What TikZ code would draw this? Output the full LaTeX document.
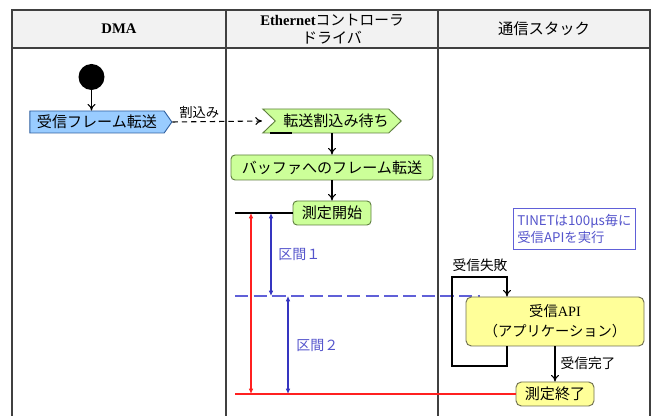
\documentclass[tikz,border=0pt]{standalone}
\usepackage{fontspec}
\setmainfont{Liberation Serif}
\newfontfamily\jp{Noto Sans CJK JP}
\usetikzlibrary{shapes.symbols,arrows.meta}
\definecolor{gfill}{HTML}{CCFF99}
\definecolor{gline}{HTML}{5F7F3F}
\definecolor{bfill}{HTML}{99CCFF}
\definecolor{bline}{HTML}{3060A0}
\definecolor{yfill}{HTML}{FFFF99}
\definecolor{yline}{HTML}{707050}
\definecolor{tline}{HTML}{404040}
\definecolor{hfill}{HTML}{F2F2F2}
\definecolor{mblue}{HTML}{3535C0}
\definecolor{lblue}{HTML}{6060D8}
\definecolor{tblue}{HTML}{5555CC}
\definecolor{mred}{HTML}{FF2020}
\begin{document}
\begin{tikzpicture}[x=0.75pt,y=-0.75pt,
  font=\fontsize{11.3}{14}\jp\selectfont,
  gbox/.style={draw=gline, fill=gfill, rounded corners=3pt, inner sep=0pt, align=center, line width=0.7pt},
  ybox/.style={draw=yline, fill=yfill, rounded corners=4pt, inner sep=0pt, align=center, line width=0.7pt},
  arr/.style={-{To[length=5pt,width=6pt]}, line width=0.8pt},
  redarr/.style={{Latex[length=4pt,width=3.5pt]}-{Latex[length=4pt,width=3.5pt]}, draw=mred, line width=0.9pt},
  bluearr/.style={{Latex[length=4pt,width=3.5pt]}-{Latex[length=4pt,width=3.5pt]}, draw=mblue, line width=0.8pt},
  tbl/.style={draw=tline, line width=1.1pt},
  hdr/.style={align=center, inner sep=0pt}
]
\useasboundingbox (0,0) rectangle (654,416);

% table
\fill[hfill] (12,10) rectangle (650,48);
\draw[tbl] (12,416) -- (12,10) -- (650,10) -- (650,416);
\draw[tbl] (226,10) -- (226,416);
\draw[tbl] (438,10) -- (438,416);
\draw[tbl] (12,48) -- (650,48);
\node[hdr] (h1) at (119,29) {\fontsize{11}{13}\selectfont\rmfamily\bfseries DMA};
\node[hdr] (h2) at (332,29) {\fontsize{11}{17}\selectfont{\rmfamily\bfseries Ethernet}コントローラ\\ドライバ};
\node[hdr] (h3) at (544,29) {\fontsize{11.5}{14}\selectfont 通信スタック};

% DMA lane
\node[circle, fill=black, minimum size=26*0.75pt, inner sep=0pt] (init) at (91.5,77) {};
\node[signal, signal to=east, signal pointer angle=110, draw=bline, fill=bfill, line width=0.7pt,
      minimum width=142*0.75pt, minimum height=22*0.75pt, inner sep=0pt] (send) at (97,122) {受信フレーム転送};
\draw[arr] (init) -- (init |- send.north);

% driver lane
\node[signal, signal from=west, signal pointer angle=88, draw=gline, fill=gfill, line width=0.7pt,
      minimum width=138*0.75pt, minimum height=24*0.75pt, inner sep=0pt] (wait) at (332,121) {\hspace*{6pt}転送割込み待ち};
\draw[line width=0.9pt] (270,133) -- (292,133);
\draw[arr, dashed, dash pattern=on 4pt off 3pt] (send.east) -- node[above, pos=0.3, inner sep=2pt, font=\fontsize{10}{12}\jp\selectfont] (lbl1) {割込み} (wait.west -| 262,0);
\node[gbox, minimum width=202*0.75pt, minimum height=25*0.75pt] (buf) at (332,167.5) {バッファへのフレーム転送};
\node[gbox, minimum width=78*0.75pt, minimum height=24*0.75pt] (mstart) at (332,213) {測定開始};
\draw[arr] (wait.south) -- (buf.north);
\draw[arr] (buf.south) -- (mstart.north);

% measurement lines
\coordinate (b0) at (235,213);
\coordinate (r0) at (235,394);
\coordinate (d0) at (235,296);
\coordinate (d1) at (480,296);
\draw[line width=0.9pt] (b0) -- (mstart.west);
\draw[lblue, line width=1.1pt, dash pattern=on 10pt off 4pt] (d0) -- (d1);
\coordinate (ra) at (251,213);
\coordinate (rb) at (251,394);
\coordinate (ba) at (271,213);
\coordinate (bb) at (271,296);
\coordinate (bc) at (288,296);
\coordinate (bd) at (288,394);
\draw[redarr] (ra) -- (rb);
\draw[bluearr] (ba) -- (bb);
\draw[bluearr] (bc) -- (bd);
\node[anchor=west, text=tblue, inner sep=0pt, font=\fontsize{10.5}{12}\jp\selectfont] (k1) at (278,254) {区間１};
\node[anchor=west, text=tblue, inner sep=0pt, font=\fontsize{10.5}{12}\jp\selectfont] (k2) at (296,345) {区間２};

% stack lane
\node[draw=lblue, fill=white, line width=0.7pt, anchor=north west, inner sep=0pt,
      minimum width=122*0.75pt, minimum height=41*0.75pt, text=tblue, align=left,
      font=\fontsize{10}{12.5}\jp\selectfont] (note) at (513,208) {TINETは100μs毎に\\受信APIを実行};
\node[ybox, minimum width=178*0.75pt, minimum height=49*0.75pt, font=\fontsize{10.7}{15}\jp\selectfont] (api) at (555,321.5) {受信{\rmfamily API}\\（アプリケーション）};
\node[ybox, minimum width=78*0.75pt, minimum height=24*0.75pt] (mend) at (555,394) {測定終了};
\draw[mred, line width=1pt] (r0) -- (mend.west);
\coordinate (lx) at (507,277);
\draw[arr] (api.south -| lx) |- (452,366) |- (lx) -- (api.north -| lx);
\node[inner sep=0pt, font=\fontsize{10.3}{12}\jp\selectfont] (fail) at (480,265) {受信失敗};
\draw[arr] (api.south) -- (mend.north);
\node[inner sep=0pt, font=\fontsize{10.3}{12}\jp\selectfont] (ok) at (588,363) {受信完了};
\end{tikzpicture}
\end{document}
